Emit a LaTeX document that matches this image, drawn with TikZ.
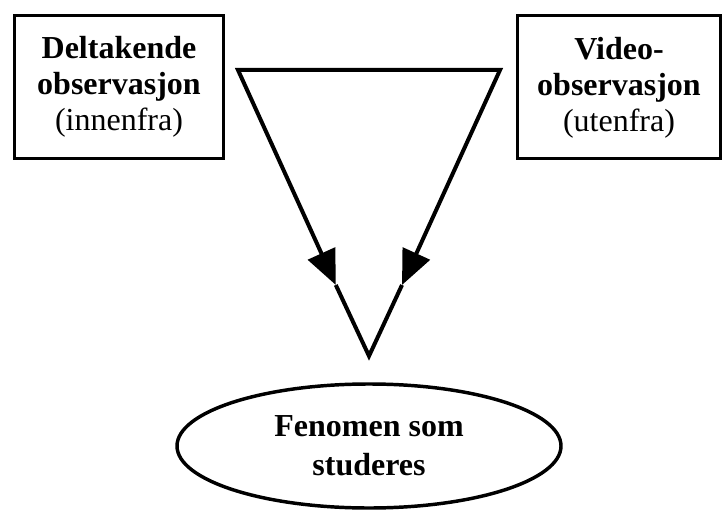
\documentclass[tikz,border=0pt]{standalone}
\usepackage{fontspec}
\setmainfont{Liberation Serif}
\usetikzlibrary{shapes, arrows.meta, positioning, calc}

\begin{document}
\begin{tikzpicture}[
        x=0.75pt, y=-0.75pt, % 1 enhet = 1 px, y nedover som i bildet
        boks/.style={rectangle, draw, line width=2.25pt, align=center, inner sep=0pt, minimum height=107.25pt, font=\fontsize{24}{27}\selectfont},
        fenomen/.style={ellipse, draw, line width=2.6pt, align=center, inner sep=0pt, minimum width=288pt, minimum height=93pt, font=\bfseries\fontsize{24}{29}\selectfont},
        linje/.style={line width=3pt, line join=miter},
        pil/.style={linje, {Triangle[length=26pt, width=22pt]}-{Triangle[length=26pt, width=22pt]}}
        ]
        \useasboundingbox (0,0) rectangle (724,513);

        % Boksene oppe til venstre og høyre
        \node[boks, minimum width=156.75pt] (innenfra) at (119,87) {\textbf{Deltakende}\\\textbf{observasjon}\\(innenfra)};
        \node[boks, minimum width=152.25pt] (utenfra) at (619,87.5) {\textbf{Video-}\\\textbf{observasjon}\\(utenfra)};

        % Trekanten med pilspisser midt på sidene
        \coordinate (vhj) at (238,70);
        \coordinate (hhj) at (500,70);
        \coordinate (bunn) at (369,356);
        \coordinate (vpil) at (335.8,285);
        \coordinate (hpil) at (402,285);

        \draw[pil] (vpil) -- (vhj) -- (hhj) -- (hpil);
        \draw[linje] (vpil) -- (bunn) -- (hpil);

        % Fenomenet nederst
        \node[fenomen] (studeres) at (369,446) {Fenomen som\\studeres};

    \end{tikzpicture}
\end{document}
